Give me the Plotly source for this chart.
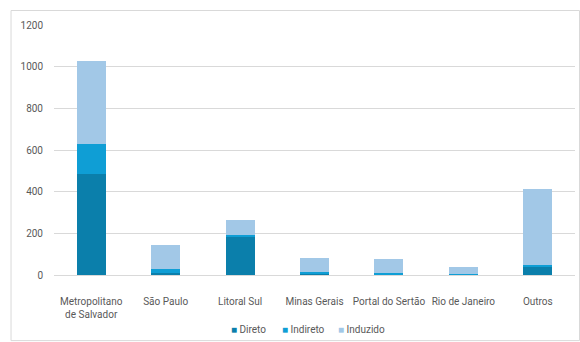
import plotly.graph_objects as go

categories = ["Metropolitano<br>de Salvador", "São Paulo", "Litoral Sul", "Minas Gerais",
              "Portal do Sertão", "Rio de Janeiro", "Outros"]
direto = [486, 12, 183, 5, 4, 1, 42]
indireto = [142, 17, 10, 8, 6, 2, 8]
induzido = [398, 115, 72, 71, 67, 37, 364]
y_ticks = [0, 200, 400, 600, 800, 1000, 1200]

series = [("Direto", direto, "#0B7FAB"),
          ("Indireto", indireto, "#0F9ED5"),
          ("Induzido", induzido, "#A2C8E7")]

fig = go.Figure()
for name, vals, color in series:
    fig.add_trace(go.Bar(x=categories, y=vals, name=name, showlegend=False,
                         marker=dict(color=color, line=dict(width=0))))

W, H = 580, 342
left, right, top, bottom = 53.5, 5, 25, 66.7
pw = W - left - right
ph = H - top - bottom

def px_to_paper_x(px):
    return (px - left) / pw

def px_to_paper_y(py):
    return (H - bottom - py) / ph

# legend drawn as text entries (name + coloured square)
legend_x = [229, 280, 336]
annotations = []
for (name, vals, color), lx in zip(series, legend_x):
    annotations.append(dict(
        xref="paper", yref="paper", x=px_to_paper_x(lx), y=px_to_paper_y(330),
        xanchor="left", yanchor="middle", showarrow=False,
        text=f"<span style='color:{color}'>■</span> {name}",
        font=dict(size=10, color="#595959")))

fig.update_layout(
    width=W, height=H,
    margin=dict(l=left, r=right, t=top, b=bottom, pad=0),
    barmode="stack",
    bargap=0.61,
    paper_bgcolor="white",
    plot_bgcolor="white",
    font=dict(family="Roboto, Liberation Sans, sans-serif", size=10, color="#595959"),
    showlegend=False,
    xaxis=dict(showgrid=False, showline=False, ticks="outside", ticklen=17,
               tickcolor="rgba(0,0,0,0)", tickfont=dict(size=10), automargin=False),
    yaxis=dict(range=[0, 1200], tickvals=y_ticks, showgrid=True, gridcolor="#D9D9D9",
               gridwidth=1, zeroline=True, zerolinecolor="#D9D9D9", zerolinewidth=1,
               showline=False, ticks="outside", ticklen=8, tickcolor="rgba(0,0,0,0)",
               tickfont=dict(size=10), automargin=False),
    annotations=annotations,
    shapes=[dict(type="rect", xref="paper", yref="paper",
                 x0=px_to_paper_x(10.5), x1=px_to_paper_x(579.5),
                 y0=px_to_paper_y(341), y1=px_to_paper_y(10.5),
                 line=dict(color="#D9D9D9", width=1), layer="below")],
)

fig.write_html("out.html")
